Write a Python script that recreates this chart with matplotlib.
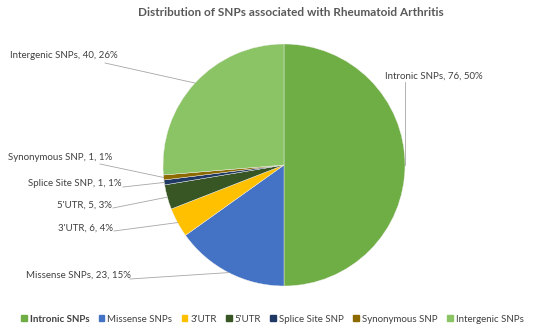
import matplotlib
matplotlib.use("Agg")
import matplotlib.pyplot as plt
import numpy as np

categories = ["Intronic SNPs", "Missense SNPs", "3'UTR", "5'UTR",
              "Splice Site SNP", "Synonymous SNP", "Intergenic SNPs"]
values = [76, 23, 6, 5, 1, 1, 40]
percents = [50, 15, 4, 3, 1, 1, 26]
colors = ["#6FAD45", "#4472C4", "#FFC000", "#375623", "#203864", "#8C6A00", "#8BC464"]

plt.rcParams['font.family'] = ['Lato', 'DejaVu Sans']
W, H = 550, 329
fig = plt.figure(figsize=(5.5, 3.29), dpi=100)
ax = fig.add_axes([0, 0, 1, 1])

cx, cy, R = 284, 329 - 165, 121
wedges, _ = ax.pie(values, colors=colors, startangle=90, counterclock=False,
                   center=(cx, cy), radius=R, frame=True,
                   wedgeprops=dict(linewidth=0.3, edgecolor='#f0f0f0'))
ax.set_xlim(0, W)
ax.set_ylim(0, H)
ax.set_aspect('equal')
ax.axis('off')

# label anchor positions (pixel, top-left origin), text alignment
label_pos = [
    (385, 76, 'left'),
    (131, 275, 'right'),
    (113, 228, 'right'),
    (112, 205, 'right'),
    (122, 184, 'right'),
    (112, 157, 'right'),
    (118, 55, 'right'),
]
line_start = [
    (405, 82),
    (130, 279),
    (114, 231),
    (113, 208),
    (123, 187),
    (100, 164),
    (105, 63),
]
lc = '#A6A6A6'
tc = "#404040"
for w, cat, v, p, (lx, ly, ha), (sx, sy) in zip(wedges, categories, values, percents, label_pos, line_start):
    ang = np.deg2rad((w.theta1 + w.theta2) / 2)
    px, py = cx + R * np.cos(ang), cy + R * np.sin(ang)
    ax.text(lx, H - ly, f"{cat}, {v}, {p}%", ha=ha, va='center', fontsize=7, color=tc)
    if ha == 'left':
        ax.plot([px, px], [H - sy, py], color=lc, lw=0.6)
    else:
        ax.plot([sx, px], [H - sy, py], color=lc, lw=0.6)

ax.text(291, H - 12, "Distribution of SNPs associated with Rheumatoid Arthritis",
        ha='center', va='center', fontsize=8.5, fontweight='bold', color='#595959')

handles = [plt.Rectangle((0, 0), 1, 1, color=c) for c in colors]
leg = fig.legend(handles, categories, loc='center', bbox_to_anchor=(0.495, 1 - 319 / H),
                 ncol=7, frameon=False, fontsize=7, handlelength=0.6, handleheight=0.6,
                 handletextpad=0.3, columnspacing=0.95, labelcolor=tc)
leg.get_texts()[0].set_fontweight('bold')
fig.savefig("out.png", dpi=100)
